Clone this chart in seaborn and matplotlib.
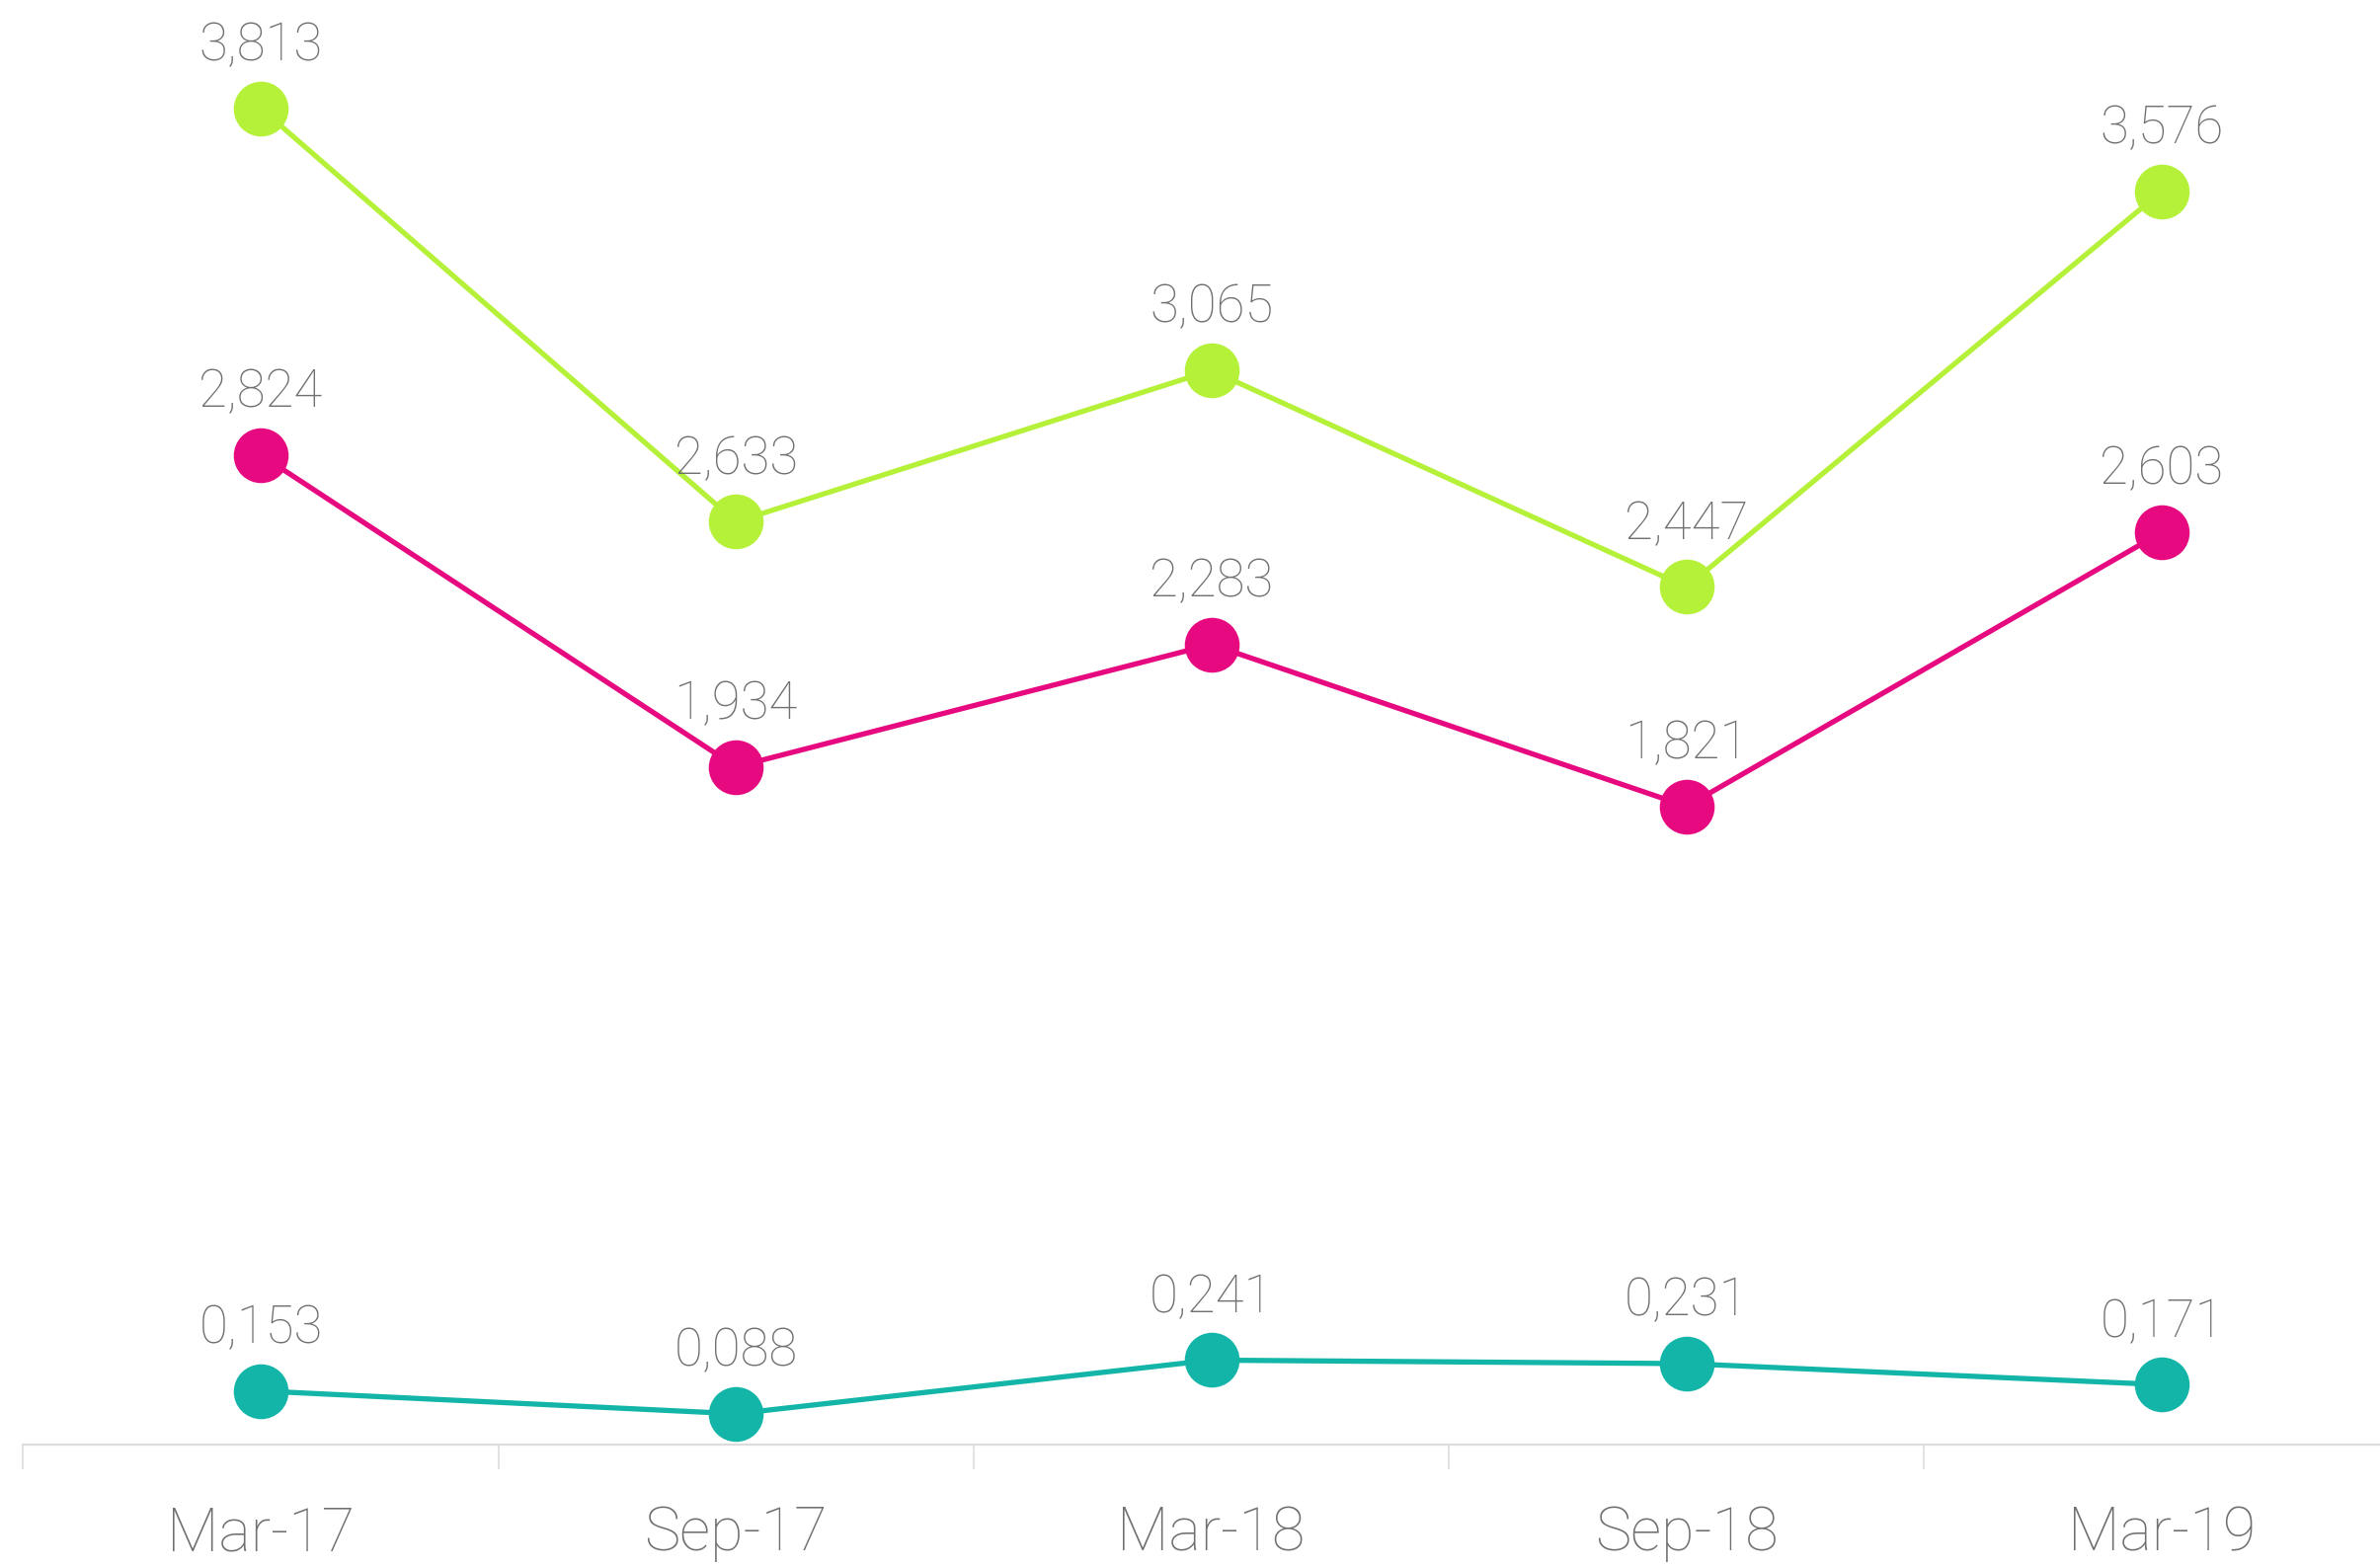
import numpy as np
import pandas as pd
import matplotlib
matplotlib.use("Agg")
import matplotlib.pyplot as plt
import seaborn as sns

categories = ["Mar-17", "Sep-17", "Mar-18", "Sep-18", "Mar-19"]
series_names = ["Green", "Pink", "Teal"]
green_values = [3.813, 2.633, 3.065, 2.447, 3.576]
pink_values = [2.824, 1.934, 2.283, 1.821, 2.603]
teal_values = [0.153, 0.088, 0.241, 0.231, 0.171]
colors = ["#B6F13A", "#E6097F", "#12B5A8"]

sns.set_theme(style="white")
plt.rcParams["font.family"] = ["Roboto", "DejaVu Sans"]
plt.rcParams["font.weight"] = "light"

pos = np.arange(len(categories))
rows = []
for name, vals in zip(series_names, [green_values, pink_values, teal_values]):
    for p, c, v in zip(pos, categories, vals):
        rows.append({"pos": p, "cat": c, "series": name, "value": v})
df = pd.DataFrame(rows)

fig = plt.figure(figsize=(24.10, 15.88), dpi=100)
left = 23.4 / 2410
width = 481.25 * 5 / 2410
bottom = 125 / 1588
ax = fig.add_axes([left, bottom, width, 1 - bottom])

sns.lineplot(data=df, x="pos", y="value", hue="series", hue_order=series_names,
             palette=colors, marker="o", markersize=40, markeredgewidth=0,
             linewidth=3.8, legend=False, ax=ax)

for name, vals, col in zip(series_names, [green_values, pink_values, teal_values], colors):
    for p, v in zip(pos, vals):
        ax.annotate(f"{v:.3f}".replace(".", ","), (p, v), xytext=(0, 35),
                    textcoords="offset points", ha="center", va="baseline",
                    fontsize=38, color="#707070", fontweight="light")

ax.set_xlim(-0.5, len(categories) - 0.5)
ax.set_ylim(0, 4.122)
ax.set_xticks(pos)
ax.set_xticklabels(categories, fontsize=44, color="#707070", fontweight="light")
ax.set_xticks(np.arange(-0.5, len(categories), 1), minor=True)
ax.tick_params(axis="x", which="major", length=0, pad=44)
ax.tick_params(axis="x", which="minor", length=18, width=1.2, color="#dddddd", bottom=True)
ax.set_yticks([])
ax.set_xlabel("")
ax.set_ylabel("")
for s in ["top", "right", "left"]:
    ax.spines[s].set_visible(False)
ax.spines["bottom"].set_color("#dcdcdc")
ax.spines["bottom"].set_linewidth(1.6)

fig.savefig("out.png", dpi=100, facecolor="white")
